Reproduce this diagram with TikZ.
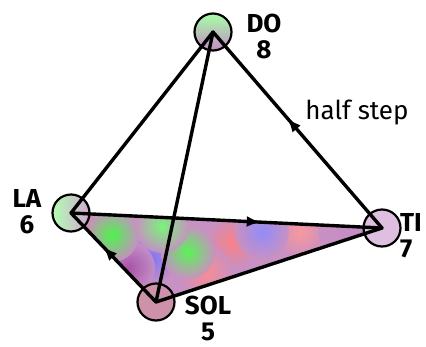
\documentclass[tikz,border=0pt]{standalone}
\usepackage{fontspec}
\setmainfont{Fira Sans}
\usetikzlibrary{arrows.meta,decorations.markings,backgrounds}

\definecolor{face}{RGB}{200,145,195}

\tikzset{
  note/.style={circle,draw=black,line width=2.2pt,minimum size=37pt,inner sep=0pt},
  link/.style={line width=3.4pt,line cap=round},
  arrowmid/.style={postaction={decorate},
    decoration={markings,mark=at position #1 with {\arrow{Latex[length=14pt,width=11pt]}}}},
  tag/.style={font=\fontsize{26}{26}\selectfont\bfseries,align=center,inner sep=0pt},
  blob/.style={inner color=#1,outer color=face}
}

\begin{document}
\begin{tikzpicture}[x=1pt,y=-1pt]
  \useasboundingbox (0,0) rectangle (426,346);

  % the four notes
  \node[note,top color=green!35,bottom color=violet!45] (do) at (213,32) {};
  \node[note,left color=green!30,right color=violet!35] (la) at (71,213) {};
  \node[note,fill=violet!25] (ti) at (382,228) {};
  \node[note,fill={rgb,255:red,205;green,145;blue,170}] (sol) at (156,302) {};

  % coloured face
  \begin{pgfonlayer}{background}
    \fill[face] (la.center) -- (ti.center) -- (sol.center) -- cycle;
    \begin{scope}
      \clip (la.center) -- (ti.center) -- (sol.center) -- cycle;
      \foreach \px/\py/\col in {88/228/red!55,232/242/red!50,205/272/red!45,300/232/red!40,
          150/258/blue!55,262/232/blue!45,128/268/violet!70,345/230/violet!45,
          112/235/green!75,188/252/green!70,162/226/green!55}
        \shade[blob=\col,opacity=0.9] (\px,\py) circle (27pt);
    \end{scope}
  \end{pgfonlayer}

  % edges
  \draw[link] (do.center) -- (la.center);
  \draw[link] (do.center) -- (sol.center);
  \draw[link] (sol.center) -- (ti.center);
  \draw[link,arrowmid=0.56] (ti.center) -- (do.center);
  \draw[link,arrowmid=0.61] (la.center) -- (ti.center);
  \draw[link,arrowmid=0.62] (sol.center) -- (la.center);

  % labels
  \node[tag] (do label) at (264,36) {DO\\8};
  \node[tag] (la label) at (27,212) {LA\\6};
  \node[tag,anchor=west,align=left] (ti label) at (400,236) {TI\\7};
  \node[tag] (sol label) at (208,318) {SOL\\5};
  \node[tag,font=\fontsize{26}{28}\selectfont] (step) at (357,113) {half step};
\end{tikzpicture}
\end{document}
